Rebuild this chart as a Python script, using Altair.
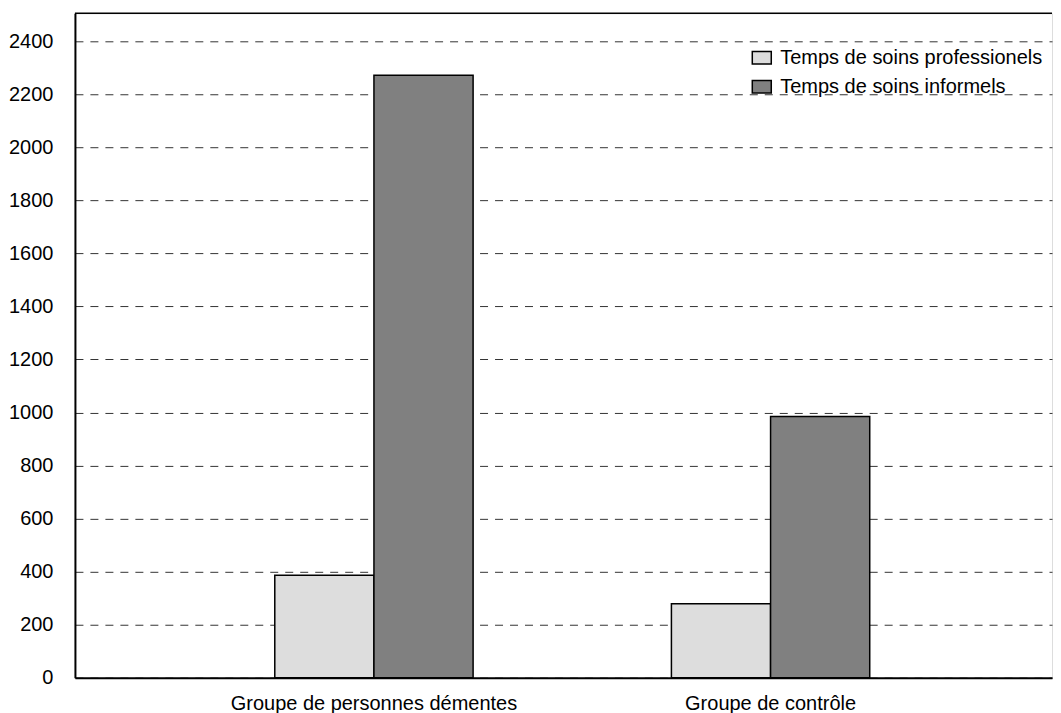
import altair as alt
import pandas as pd

groups = ["Groupe de personnes démentes", "Groupe de contrôle"]
series = ["Temps de soins professionels", "Temps de soins informels"]
professionel = [386, 279]
informel = [2272, 985]
colors = ["#dddddd", "#808080"]
y_ticks = list(range(0, 2401, 200))
y_max = 2505

rows = []
for g, p, i in zip(groups, professionel, informel):
    rows.append({"groupe": g, "serie": series[0], "valeur": p})
    rows.append({"groupe": g, "serie": series[1], "valeur": i})
df = pd.DataFrame(rows)

W = 978
H = 665
FONT = "Liberation Sans"

x_enc = alt.X(
    "groupe:N", sort=groups, title=None,
    scale=alt.Scale(paddingInner=0.5, paddingOuter=0.4817, align=0.523),
    axis=alt.Axis(labelAngle=0, ticks=False, labelPadding=16, labelFontSize=20,
                  labelFont=FONT, labelColor="black", domainColor="black",
                  domainWidth=2, labelLimit=600),
)

bars = alt.Chart(df).mark_bar(stroke="black", strokeWidth=1.5).encode(
    x=x_enc,
    xOffset=alt.XOffset("serie:N", sort=series,
                        scale=alt.Scale(paddingInner=0, paddingOuter=0)),
    y=alt.Y("valeur:Q", title=None,
            scale=alt.Scale(domain=[0, y_max], nice=False, zero=True),
            axis=alt.Axis(values=y_ticks, format="d", ticks=False, labelPadding=22,
                          labelFontSize=20, labelFont=FONT, labelColor="black",
                          domainColor="black", domainWidth=2,
                          grid=True, gridDash=[8, 7], gridColor="#333333",
                          gridWidth=1, minExtent=67, maxExtent=67)),
    color=alt.Color("serie:N", sort=series, title=None,
                    scale=alt.Scale(domain=series, range=colors),
                    legend=alt.Legend(orient="none", legendX=677, legendY=34,
                                      padding=0, labelFontSize=20, labelFont=FONT,
                                      labelColor="black", labelOffset=8,
                                      symbolType="M-1,-0.65H1V0.65H-1Z",
                                      symbolSize=361, symbolStrokeColor="black",
                                      symbolStrokeWidth=1.5, symbolOpacity=1,
                                      rowPadding=8, labelLimit=400)),
)

top = alt.Chart(pd.DataFrame({"v": [y_max]})).mark_rule(
    color="black", strokeWidth=1.5).encode(y=alt.Y("v:Q"))

chart = alt.layer(bars, top).properties(
    width=W, height=H,
    padding={"left": 0, "top": 4, "right": 0, "bottom": 0},
).configure_view(stroke=None).configure(background="white")

chart.save("out.html", embed_options={"renderer": "svg", "actions": False})
